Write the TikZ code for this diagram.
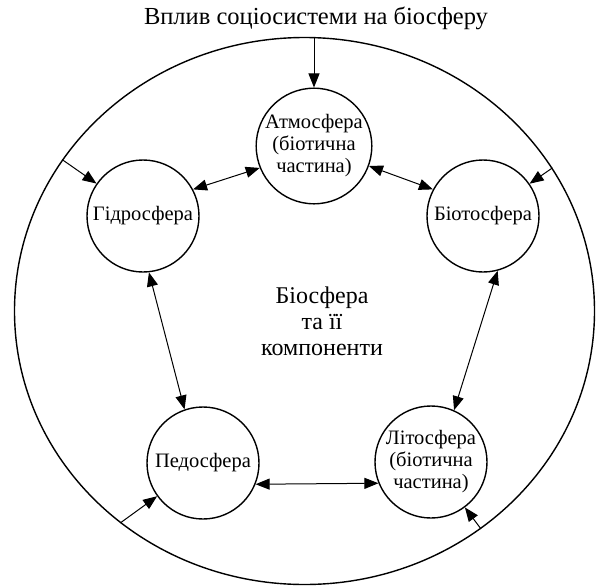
\documentclass[tikz,border=0pt]{standalone}
\usepackage{fontspec}
\setmainfont{Liberation Serif}
\usetikzlibrary{arrows.meta,shapes.geometric}
\begin{document}
\begin{tikzpicture}[x=1pt,y=-1pt,
  sph/.style={circle,draw,line width=1.4pt,minimum size=112pt,inner sep=0pt,align=center,font=\fontsize{20.5}{22}\selectfont},
  tip/.tip={Triangle[length=14pt,width=11pt]},
  arr/.style={line width=1pt,-tip},
  darr/.style={line width=1pt,tip-tip}]
\useasboundingbox (0,0) rectangle (598,587);
\node[ellipse,draw,line width=1.4pt,minimum width=580pt,minimum height=547pt,inner sep=0pt] (E) at (304.5,311) {};
\node[font=\fontsize{24.5}{26}\selectfont] (T) at (316,18) {Вплив соціосистеми на біосферу};
\node[align=center,font=\fontsize{24}{26}\selectfont] (C) at (322,321) {Біосфера\\та її\\компоненти};
\node[sph] (A) at (314,146) {Атмосфера\\(біотична\\частина)};
\node[sph] (G) at (143,216) {Гідросфера};
\node[sph] (B) at (483,216) {Біотосфера};
\node[sph] (P) at (203,463) {Педосфера};
\node[sph] (L) at (431,462) {Літосфера\\(біотична\\частина)};
\coordinate (eT) at (A.north |- E.north);
\draw[arr] (eT) -- (A.north);
\draw[arr] (E.148.3) -- (G);
\draw[arr] (E.30.9) -- (B);
\draw[arr] (E.229.9) -- (P);
\draw[arr] (E.309.9) -- (L);
\draw[darr] (G.28) -- (A.202);
\draw[darr] (A.340) -- (B.152);
\draw[darr] (G.276) -- (P.109);
\draw[darr] (B.285) -- (L.66);
\draw[darr] (P.338) -- (L.202);
\end{tikzpicture}
\end{document}
